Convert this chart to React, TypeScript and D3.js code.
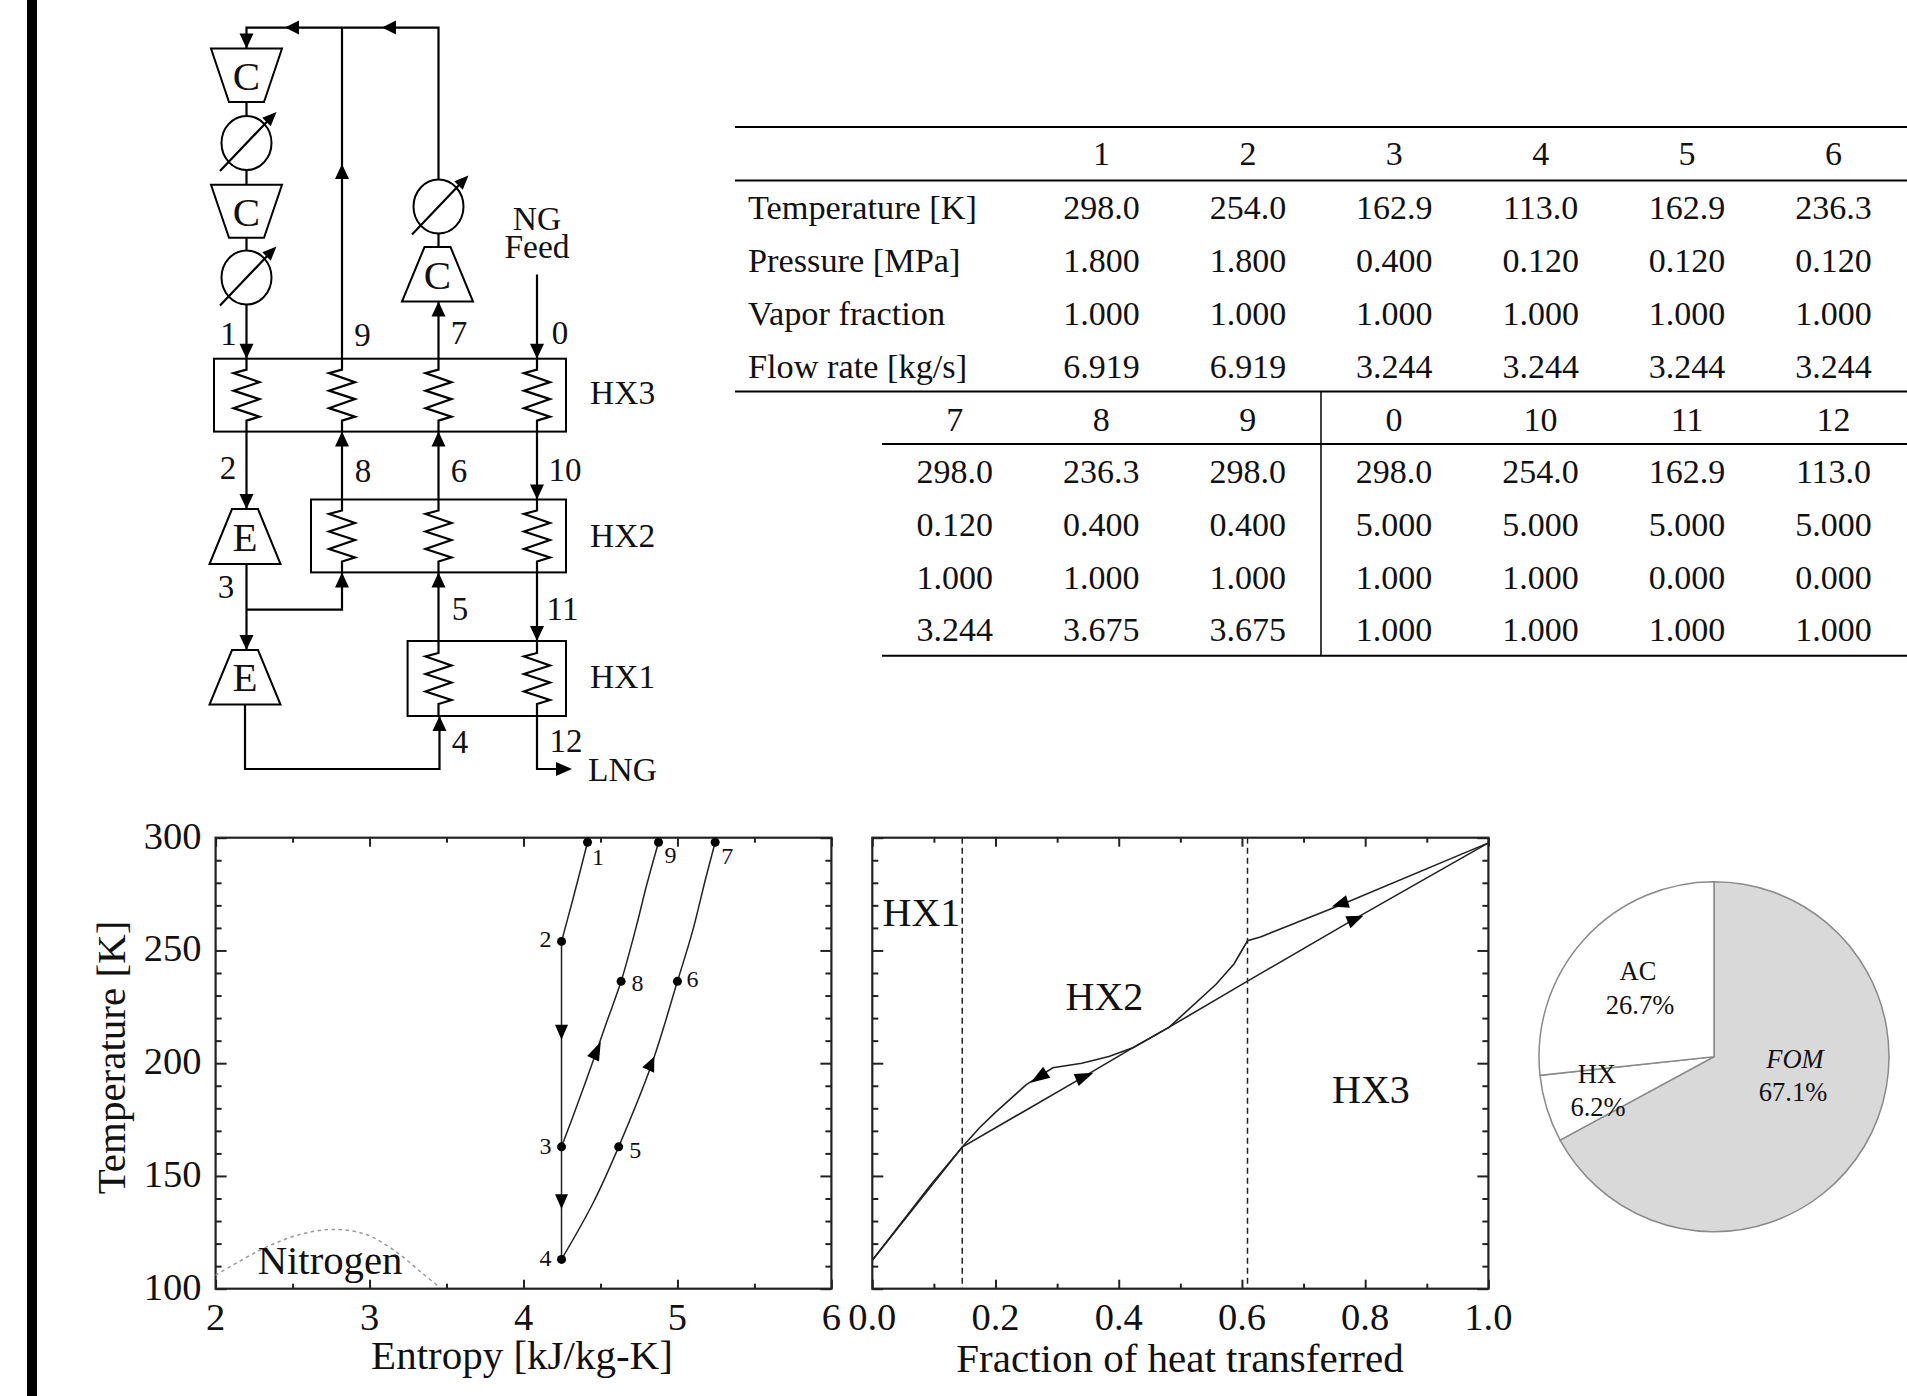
import React, { useRef, useEffect } from 'react';
import * as d3 from 'd3';

// table
const headRowLabels = ['Temperature [K]', 'Pressure [MPa]', 'Vapor fraction', 'Flow rate [kg/s]'];
const topStreams = ['1', '2', '3', '4', '5', '6'];
const topTemperature = ['298.0', '254.0', '162.9', '113.0', '162.9', '236.3'];
const topPressure = ['1.800', '1.800', '0.400', '0.120', '0.120', '0.120'];
const topVapor = ['1.000', '1.000', '1.000', '1.000', '1.000', '1.000'];
const topFlow = ['6.919', '6.919', '3.244', '3.244', '3.244', '3.244'];
const bottomStreams = ['7', '8', '9', '0', '10', '11', '12'];
const bottomTemperature = ['298.0', '236.3', '298.0', '298.0', '254.0', '162.9', '113.0'];
const bottomPressure = ['0.120', '0.400', '0.400', '5.000', '5.000', '5.000', '5.000'];
const bottomVapor = ['1.000', '1.000', '1.000', '1.000', '1.000', '0.000', '0.000'];
const bottomFlow = ['3.244', '3.675', '3.675', '1.000', '1.000', '1.000', '1.000'];

// T-s chart [entropy, temperature]
const line21 = [[4.247, 254], [4.32, 272.5], [4.37, 285.7], [4.416, 298]];
const line24 = [[4.247, 254], [4.247, 113]];
const line389 = [[4.247, 162.9], [4.357, 183], [4.475, 205.4], [4.538, 217.8], [4.634, 236.3], [4.734, 261], [4.8, 279], [4.877, 298]];
const line4567 = [[4.247, 113], [4.452, 138], [4.618, 162.9], [4.833, 199.6], [5.0, 236.3], [5.1, 259], [5.18, 281], [5.245, 298]];
const nitrogenDome = [[2, 106], [2.315, 118], [2.547, 124], [2.76, 126.3], [2.98, 124], [3.18, 116], [3.34, 107], [3.458, 100.5]];
const statePoints = [
  ['1', 4.416, 298], ['9', 4.877, 298], ['7', 5.245, 298], ['2', 4.247, 254], ['8', 4.634, 236.3],
  ['6', 5.0, 236.3], ['3', 4.247, 162.9], ['5', 4.618, 162.9], ['4', 4.247, 113],
];
const stateLabelOffsets = [[10.5, 23], [12, 21], [12, 22], [-16, 6], [16.5, 10], [15, 6], [-16, 7], [16.5, 11], [-16, 7]];
const tsArrows = [
  [4.247, 217, 4.247, 210.4], [4.247, 141.9, 4.247, 135.3],
  [4.452, 202, 4.502, 209.5], [4.81, 197, 4.85, 203],
];

// composite curves [fraction, temperature]
const coldCurve = [[0, 112.6], [0.146, 162.8], [0.34, 193.5], [0.424, 207], [0.482, 216], [0.609, 236.4], [0.783, 264], [1, 297.7]];
const hotCurve = [
  [0, 112.6], [0.094, 145.8], [0.146, 162.8], [0.174, 171.4], [0.199, 178], [0.25, 190.5], [0.293, 198], [0.34, 200], [0.384, 203],
  [0.424, 207], [0.482, 216], [0.558, 235], [0.587, 244], [0.609, 254.3], [0.63, 256], [0.754, 269.5], [1, 297.7],
];
const pinchLines = [0.146, 0.609];
const heatArrows = [
  [0.772, 271.7, 0.746, 269.5], [0.772, 262.5, 0.797, 265.4],
  [0.283, 196, 0.257, 191.3], [0.331, 192.6, 0.359, 195.8],
];

// pie
const costLabels = ['FOM', 'HX', 'AC'];
const costShares = [67.1, 6.2, 26.7];

const SERIF = '"Liberation Serif", serif';
const INK = '#111';

const App = () => {
  const svgRef = useRef<SVGSVGElement>(null);

  useEffect(() => {
    const svg = d3.select(svgRef.current);
    svg.selectAll('*').remove();

    svg.append('rect').attr('width', 1907).attr('height', 1396).attr('fill', '#fff');
    svg.append('rect').attr('x', 27).attr('width', 10).attr('height', 1396).attr('fill', '#000');

    const text = (g: any, str: string, x: number, y: number, size: number, anchor = 'middle') =>
      g.append('text')
        .attr('x', x).attr('y', y)
        .attr('font-family', SERIF).attr('font-size', size)
        .attr('text-anchor', anchor).attr('fill', INK)
        .text(str);

    const arrowHead = (g: any, x0: number, y0: number, x1: number, y1: number, w: number, fill = '#000') => {
      const dx = x1 - x0;
      const dy = y1 - y0;
      const len = Math.hypot(dx, dy);
      const nx = (-dy / len) * (w / 2);
      const ny = (dx / len) * (w / 2);
      g.append('path')
        .attr('d', `M${x1},${y1}L${x0 + nx},${y0 + ny}L${x0 - nx},${y0 - ny}Z`)
        .attr('fill', fill);
    };

    /* ---------- process flow diagram ---------- */
    const flow = svg.append('g');
    const colA = 246.5;
    const colB = 342;
    const colC = 438.5;
    const colD = 537;

    const pipe = (pts: number[][]) => {
      flow.append('path')
        .attr('d', d3.line()(pts as any))
        .attr('fill', 'none').attr('stroke', '#000').attr('stroke-width', 2.2);
    };
    const down = (x: number, tip: number) => arrowHead(flow, x, tip - 15, x, tip, 14);
    const up = (x: number, tip: number) => arrowHead(flow, x, tip + 15, x, tip, 14);

    // three teeth, centred in the exchanger box
    const zigzag = (x: number, top: number, bottom: number) => {
      const a = 13;
      const mid = (top + bottom) / 2;
      pipe([[x, top], [x, mid - 25.5], [x - a, mid - 22], [x + a, mid - 13], [x - a, mid - 4.5], [x + a, mid + 4],
        [x - a, mid + 13], [x + a, mid + 21.5], [x, mid + 25.5], [x, bottom]]);
    };

    const box = (x0: number, x1: number, y0: number, y1: number) => {
      flow.append('rect').attr('x', x0).attr('y', y0).attr('width', x1 - x0).attr('height', y1 - y0)
        .attr('fill', 'none').attr('stroke', '#000').attr('stroke-width', 2);
    };

    // trapezoid: wide side on top for compressors in series, wide side below otherwise
    const trapezoid = (cx: number, y0: number, y1: number, topHalf: number, botHalf: number, label: string, base: number) => {
      flow.append('path')
        .attr('d', `M${cx - topHalf},${y0}L${cx + topHalf},${y0}L${cx + botHalf},${y1}L${cx - botHalf},${y1}Z`)
        .attr('fill', '#fff').attr('stroke', '#000').attr('stroke-width', 2);
      text(flow, label, cx, base, 41);
    };

    const heater = (cx: number, cy: number) => {
      flow.append('ellipse').attr('cx', cx).attr('cy', cy).attr('rx', 25).attr('ry', 27)
        .attr('fill', '#fff').attr('stroke', '#000').attr('stroke-width', 2);
      pipe([[cx - 26.5, cy + 28], [cx + 24, cy - 25]]);
      arrowHead(flow, cx + 20, cy - 21, cx + 30, cy - 31, 12);
    };

    // pipes
    pipe([[colC, 247], [colC, 27.6], [colA, 27.6], [colA, 48.5]]);
    pipe([[colA, 102], [colA, 359]]);
    pipe([[colB, 359], [colB, 27.6]]);
    pipe([[colC, 359], [colC, 301]]);
    pipe([[colD, 274.5], [colD, 359]]);
    pipe([[colA, 432], [colA, 509]]);
    pipe([[colB, 432], [colB, 500]]);
    pipe([[colC, 432], [colC, 500]]);
    pipe([[colD, 432], [colD, 500]]);
    pipe([[colA, 564], [colA, 650]]);
    pipe([[colA, 609.7], [colB, 609.7], [colB, 573]]);
    pipe([[colC, 573], [colC, 641]]);
    pipe([[colD, 573], [colD, 641]]);
    pipe([[245, 704.6], [245, 769], [colC + 1, 769], [colC + 1, 716]]);
    pipe([[colD, 716], [colD, 769], [565, 769]]);

    box(214, 566, 358.7, 431.6);
    box(311, 566, 499.5, 572.4);
    box(407.6, 566, 641, 716);

    [colA, colB, colC, colD].forEach(x => zigzag(x, 358.7, 431.6));
    [colB, colC, colD].forEach(x => zigzag(x, 499.5, 572.4));
    [colC, colD].forEach(x => zigzag(x, 641, 716));

    trapezoid(colA, 48.5, 102, 35.5, 17.5, 'C', 90);
    trapezoid(colA, 184.7, 237.8, 35.5, 17.5, 'C', 226);
    trapezoid(colC - 1, 247, 301.5, 13, 35.5, 'C', 289);
    trapezoid(245, 509, 564, 13, 35.5, 'E', 551);
    trapezoid(245, 650, 704.6, 13, 35.5, 'E', 691);
    heater(colA, 143);
    heater(colA, 277.5);
    heater(colC, 206.6);

    down(colA, 48.5);
    down(colA, 358.7);
    down(colD, 358.7);
    down(colA, 509);
    down(colD, 499.5);
    down(colA, 650);
    down(colD, 641);
    up(colB, 164);
    up(colC, 301.5);
    up(colB, 431.6);
    up(colC, 431.6);
    up(colB, 572.4);
    up(colC, 572.4);
    up(colC + 1, 716);
    arrowHead(flow, 299, 27.6, 285, 27.6, 14);
    arrowHead(flow, 396, 27.6, 382, 27.6, 14);
    arrowHead(flow, 556, 769, 572, 769, 14);

    const flowLabels: [string, number, number][] = [
      ['1', 228.6, 345], ['9', 362.5, 346], ['7', 459, 344], ['0', 560, 344],
      ['2', 228, 478.5], ['8', 363, 481.5], ['6', 459, 481.5], ['10', 565, 480.5],
      ['3', 226, 598], ['5', 460, 620], ['11', 562.5, 620],
      ['4', 460, 752.5], ['12', 566, 751.5],
    ];
    flowLabels.forEach(([s, x, y]) => text(flow, s, x, y, 33));
    text(flow, 'NG', colD, 229.6, 33.5);
    text(flow, 'Feed', colD, 257.6, 33.5);
    text(flow, 'HX3', 590, 404, 33.5, 'start');
    text(flow, 'HX2', 590, 547, 33.5, 'start');
    text(flow, 'HX1', 590, 688, 33.5, 'start');
    text(flow, 'LNG', 588, 781, 33.5, 'start');

    /* ---------- stream table ---------- */
    const table = svg.append('g');
    const rule = (x0: number, y: number) => {
      table.append('line').attr('x1', x0).attr('x2', 1907).attr('y1', y).attr('y2', y)
        .attr('stroke', '#000').attr('stroke-width', 2);
    };
    rule(735, 127);
    rule(735, 180.4);
    rule(735, 391.5);
    rule(882, 444);
    rule(882, 655.7);
    table.append('line').attr('x1', 1321).attr('x2', 1321).attr('y1', 391).attr('y2', 655.7)
      .attr('stroke', '#000').attr('stroke-width', 1.5);

    const topCol = d3.scalePoint().domain(topStreams).range([1101.5, 1833.5]);
    const bottomCol = d3.scalePoint().domain(bottomStreams).range([954.7, 1833.5]);
    const topRows = [topStreams, topTemperature, topPressure, topVapor, topFlow];
    const bottomRows = [bottomStreams, bottomTemperature, bottomPressure, bottomVapor, bottomFlow];
    const topBase = [165, 219, 271.8, 325, 377.9];
    const bottomBase = [430.7, 483, 536, 588.6, 641];
    topRows.forEach((row, r) => row.forEach((v, i) => text(table, v, topCol(topStreams[i]) as number, topBase[r], 34)));
    bottomRows.forEach((row, r) => row.forEach((v, i) => text(table, v, bottomCol(bottomStreams[i]) as number, bottomBase[r], 34)));
    headRowLabels.forEach((s, i) => text(table, s, 748, topBase[i + 1], 34.3, 'start'));

    /* ---------- shared axis frame ---------- */
    const frameTop = 837.7;
    const frameBottom = 1288.7;
    const y = d3.scaleLinear().domain([100, 300]).range([frameBottom, frameTop]);
    const tempMajor = d3.range(100, 301, 50);
    const tempMinor = d3.range(100, 301, 10).filter(d => d % 50 !== 0);

    const frame = (g: any, x: any, xMajor: number[], xMinor: number[], fmt: (d: number) => string) => {
      const [left, right] = x.range();
      const ticks = (axis: any, vals: number[], size: number, tr: string) => {
        const a = g.append('g').attr('transform', tr).call(axis.tickValues(vals).tickSize(size).tickFormat(() => ''));
        a.select('.domain').remove();
        a.selectAll('line').attr('stroke', '#222').attr('stroke-width', 2);
      };
      ticks(d3.axisBottom(x), xMajor, -9, `translate(0,${frameBottom})`);
      ticks(d3.axisBottom(x), xMinor, -5, `translate(0,${frameBottom})`);
      ticks(d3.axisTop(x), xMajor, -9, `translate(0,${frameTop})`);
      ticks(d3.axisTop(x), xMinor, -5, `translate(0,${frameTop})`);
      ticks(d3.axisLeft(y), tempMajor, -11, `translate(${left},0)`);
      ticks(d3.axisLeft(y), tempMinor, -6, `translate(${left},0)`);
      ticks(d3.axisRight(y), tempMajor, -11, `translate(${right},0)`);
      ticks(d3.axisRight(y), tempMinor, -6, `translate(${right},0)`);
      g.append('rect').attr('x', left).attr('y', frameTop).attr('width', right - left).attr('height', frameBottom - frameTop)
        .attr('fill', 'none').attr('stroke', '#222').attr('stroke-width', 2.2);
      xMajor.forEach(v => text(g, fmt(v), x(v), 1329.5, 38.5));
    };

    /* ---------- T-s diagram ---------- */
    const ts = svg.append('g');
    const xS = d3.scaleLinear().domain([2, 6]).range([215.6, 831.4]);
    frame(ts, xS, [2, 3, 4, 5, 6], [2.5, 3.5, 4.5, 5.5], d => String(d));
    tempMajor.forEach(v => text(ts, String(v), 201.5, y(v) + 11, 38.5, 'end'));

    const lineS = d3.line().x((d: any) => xS(d[0])).y((d: any) => y(d[1]));
    ts.append('path').attr('d', lineS.curve(d3.curveCatmullRom)(nitrogenDome as any))
      .attr('fill', 'none').attr('stroke', '#999').attr('stroke-width', 1.5).attr('stroke-dasharray', '3.5 3.5');
    [line21, line24, line389, line4567].forEach(pts => {
      ts.append('path').attr('d', lineS.curve(d3.curveCatmullRom)(pts as any))
        .attr('fill', 'none').attr('stroke', '#222').attr('stroke-width', 1.5);
    });
    tsArrows.forEach(([a, b, c, d]) => arrowHead(ts, xS(a), y(b), xS(c), y(d), 13));
    statePoints.forEach((p, i) => {
      const px = xS(p[1] as number);
      const py = y(p[2] as number);
      ts.append('circle').attr('cx', px).attr('cy', py).attr('r', 4.5).attr('fill', '#000');
      text(ts, p[0] as string, px + stateLabelOffsets[i][0], py + stateLabelOffsets[i][1], 24);
    });
    text(ts, 'Nitrogen', 330, 1274.4, 40.7);
    text(ts, 'Entropy [kJ/kg-K]', 522, 1368.7, 41);
    text(ts, 'Temperature [K]', 0, 0, 41).attr('transform', 'translate(125,1057.5) rotate(-90)');

    /* ---------- composite curves ---------- */
    const hx = svg.append('g');
    const xF = d3.scaleLinear().domain([0, 1]).range([872.3, 1488.4]);
    const fracMajor = [0, 0.2, 0.4, 0.6, 0.8, 1];
    const fracMinor = [0.1, 0.3, 0.5, 0.7, 0.9];
    frame(hx, xF, fracMajor, fracMinor, d3.format('.1f'));
    const lineF = d3.line().x((d: any) => xF(d[0])).y((d: any) => y(d[1]));
    [coldCurve, hotCurve].forEach(pts => {
      hx.append('path').attr('d', lineF(pts as any)).attr('fill', 'none').attr('stroke', '#222').attr('stroke-width', 1.6);
    });
    pinchLines.forEach(v => {
      hx.append('line').attr('x1', xF(v)).attr('x2', xF(v)).attr('y1', frameTop).attr('y2', frameBottom)
        .attr('stroke', '#222').attr('stroke-width', 1.5).attr('stroke-dasharray', '6 4');
    });
    heatArrows.forEach(([a, b, c, d]) => arrowHead(hx, xF(a), y(b), xF(c), y(d), 13));
    text(hx, 'HX1', 882.5, 925.8, 40, 'start');
    text(hx, 'HX2', 1065.5, 1010, 40, 'start');
    text(hx, 'HX3', 1332, 1103, 40, 'start');
    text(hx, 'Fraction of heat transferred', 1180, 1372, 41);

    /* ---------- cost pie ---------- */
    const pieG = svg.append('g').attr('transform', 'translate(1714,1056.7)');
    const arcs = d3.pie<number>().sort(null)(costShares);
    const arc = d3.arc<any>().innerRadius(0).outerRadius(175);
    const fills = d3.scaleOrdinal<string>().domain(costLabels).range(['#d9d9d9', '#fff', '#fff']);
    pieG.selectAll('path').data(arcs).enter().append('path')
      .attr('d', arc)
      .attr('fill', (_d: any, i: number) => fills(costLabels[i]))
      .attr('stroke', '#8a8a8a').attr('stroke-width', 1.5);
    const pct = (i: number) => `${costShares[i]}%`;
    text(pieG, costLabels[0], 81, 11, 26.5).attr('font-style', 'italic');
    text(pieG, pct(0), 79, 44, 26.5);
    text(pieG, costLabels[1], -117, 26, 26.5);
    text(pieG, pct(1), -116, 59, 26.5);
    text(pieG, costLabels[2], -76, -77, 26.5);
    text(pieG, pct(2), -74, -43, 26.5);
  }, []);

  return (
    <svg
      ref={svgRef}
      width={1907}
      height={1396}
      style={{ position: 'absolute', left: 0, top: 0, display: 'block' }}
    />
  );
};

export default App;
